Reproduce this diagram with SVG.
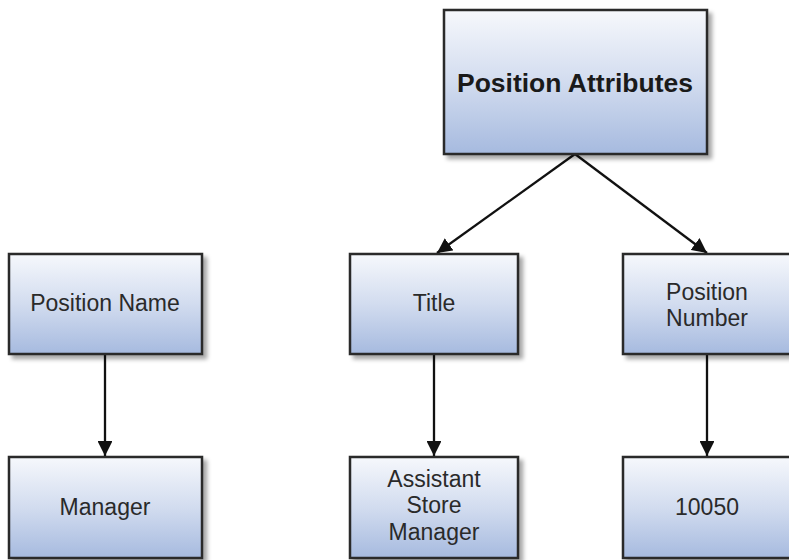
<svg xmlns="http://www.w3.org/2000/svg" width="789" height="560" viewBox="0 0 789 560">
  <defs>
    <linearGradient id="boxFill" x1="0" y1="0" x2="0" y2="1">
      <stop offset="0" stop-color="#f6f8fc"/>
      <stop offset="0.5" stop-color="#d2dcef"/>
      <stop offset="1" stop-color="#a6badf"/>
    </linearGradient>
    <filter id="shadow" x="-10%" y="-10%" width="130%" height="130%">
      <feGaussianBlur in="SourceAlpha" stdDeviation="2"/>
      <feOffset dx="4" dy="4" result="b"/>
      <feComponentTransfer><feFuncA type="linear" slope="0.35"/></feComponentTransfer>
      <feMerge><feMergeNode/><feMergeNode in="SourceGraphic"/></feMerge>
    </filter>
    <marker id="arrow" viewBox="0 0 10 10" refX="10" refY="5" markerWidth="6.5" markerHeight="6.5" markerUnits="strokeWidth" orient="auto">
      <path d="M0,0 L10,5 L0,10 z" fill="#111"/>
    </marker>
  </defs>
  <style>
    .box { fill: url(#boxFill); stroke: #2b2b2b; stroke-width: 2.5; filter: url(#shadow); }
    .lbl { font-family: "Liberation Sans", Arial, sans-serif; font-size: 23px; fill: #2a2a2a; text-anchor: middle; }
    .bold { font-weight: bold; font-size: 26.5px; fill: #1a1a1a; }
    .conn { stroke: #111; stroke-width: 2.3; fill: none; marker-end: url(#arrow); }
  </style>
  <rect width="789" height="560" fill="#ffffff"/>

  <g id="connectors">
    <line class="conn" x1="575" y1="154" x2="437" y2="253"/>
    <line class="conn" x1="575" y1="154" x2="707" y2="253"/>
    <line class="conn" x1="105" y1="355" x2="105" y2="456"/>
    <line class="conn" x1="434" y1="355" x2="434" y2="456"/>
    <line class="conn" x1="707" y1="355" x2="707" y2="456"/>
  </g>

  <g id="position-attributes">
    <rect class="box" x="444" y="10" width="263" height="144"/>
    <text class="lbl bold" x="575" y="92">Position Attributes</text>
  </g>
  <g id="position-name">
    <rect class="box" x="9" y="254" width="193" height="100"/>
    <text class="lbl" x="105" y="311">Position Name</text>
  </g>
  <g id="title">
    <rect class="box" x="350" y="254" width="168" height="100"/>
    <text class="lbl" x="434" y="311">Title</text>
  </g>
  <g id="position-number">
    <rect class="box" x="623" y="254" width="168" height="100"/>
    <text class="lbl" x="707" y="300">Position</text>
    <text class="lbl" x="707" y="326">Number</text>
  </g>
  <g id="manager">
    <rect class="box" x="9" y="457" width="193" height="101"/>
    <text class="lbl" x="105" y="515">Manager</text>
  </g>
  <g id="assistant-store-manager">
    <rect class="box" x="350" y="457" width="168" height="101"/>
    <text class="lbl" x="434" y="487">Assistant</text>
    <text class="lbl" x="434" y="513">Store</text>
    <text class="lbl" x="434" y="540">Manager</text>
  </g>
  <g id="number-10050">
    <rect class="box" x="623" y="457" width="168" height="101"/>
    <text class="lbl" x="707" y="515">10050</text>
  </g>
</svg>
